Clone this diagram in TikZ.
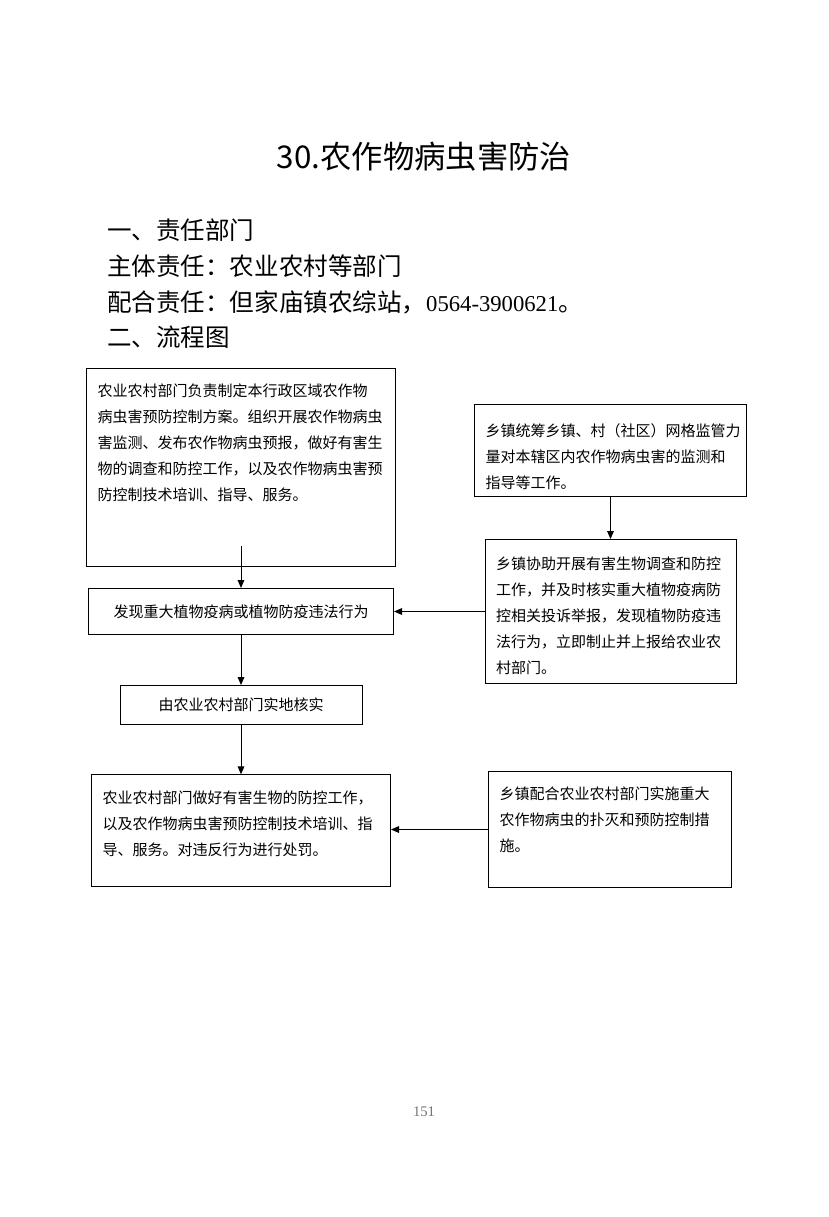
\documentclass[tikz,border=0pt]{standalone}
\usepackage{fontspec}
\setmainfont{Liberation Serif}
\newfontfamily\cjk{Noto Sans CJK SC}
\usetikzlibrary{arrows.meta,positioning,calc}
\newcommand{\boxfont}{\cjk\fontsize{11.25pt}{19.5pt}\selectfont}

\begin{document}
\begin{tikzpicture}[x=0.75pt,y=-0.75pt,>={Triangle[length=6pt,width=5pt]},
  stepbox/.style={draw,line width=0.75pt,anchor=north west,inner xsep=8.25pt,inner ysep=0pt,align=left,font=\boxfont},
  linebox/.style={draw,line width=0.75pt,inner sep=0pt,font=\boxfont},
  head/.style={anchor=west,inner sep=0pt,font=\cjk\fontsize{18.4pt}{22pt}\selectfont},
  flow/.style={->,line width=0.75pt}]
  \useasboundingbox (0,0) rectangle (828,1217);
  \node[inner sep=0pt,font=\cjk\fontsize{23.5pt}{23.5pt}\selectfont] (title) at (424,157) {30.农作物病虫害防治};
  \node[head] (h1) at (107,230) {一、责任部门};
  \node[head] (h2) at (107,266) {主体责任：农业农村等部门};
  \node[head] (h3) at (107,302) {配合责任：但家庙镇农综站，{\rmfamily\fontsize{17pt}{22pt}\selectfont 0564-3900621}。};
  \node[head] (h4) at (107,337) {二、流程图};
  \node[stepbox,text width=215.25pt,text height=20.8pt,text depth=127.7pt] (prog) at (86,368)
    {农业农村部门负责制定本行政区域农作物\\病虫害预防控制方案。组织开展农作物病虫\\害监测、发布农作物病虫预报，做好有害生\\物的调查和防控工作，以及农作物病虫害预\\防控制技术培训、指导、服务。};
  \node[linebox,minimum width=228.75pt,minimum height=34.5pt,below=15.75pt of prog] (find) {发现重大植物疫病或植物防疫违法行为};
  \node[linebox,minimum width=181.5pt,minimum height=29.25pt,below=37.5pt of find] (check) {由农业农村部门实地核实};
  \node[stepbox,anchor=north,text width=207.75pt,text height=21.5pt,text depth=62.5pt,below=37pt of check] (act)
    {农业农村部门做好有害生物的防控工作，\\以及农作物病虫害预防控制技术培训、指\\导、服务。对违反行为进行处罚。};
  \node[stepbox,text width=187.5pt,text height=23.8pt,text depth=45.2pt] (village) at (474,404)
    {乡镇统筹乡镇、村（社区）网格监管力\\量对本辖区内农作物病虫害的监测和\\指导等工作。};
  \node[stepbox,anchor=north,text width=171.75pt,text height=22.3pt,text depth=85.7pt,below=31.5pt of village] (assist)
    {乡镇协助开展有害生物调查和防控\\工作，并及时核实重大植物疫病防\\控相关投诉举报，发现植物防疫违\\法行为，立即制止并上报给农业农\\村部门。};
  \node[stepbox,text width=165.75pt,text height=20.8pt,text depth=66.2pt] (coop) at (488,771)
    {乡镇配合农业农村部门实施重大\\农作物病虫的扑灭和预防控制措\\施。};
  \coordinate (progout) at ($(prog.south)+(0,-21)$);
  \draw[flow] (progout) -- (find.north);
  \draw[flow] (find.south) -- (find.south |- check.north);
  \draw[flow] (check.south) -- (check.south |- act.north);
  \draw[flow] (village.south) -- (village.south |- assist.north);
  \draw[flow] (assist.west |- find) -- (find.east);
  \draw[flow] (coop.west) -- (coop.west -| act.east);
  \node[inner sep=0pt,text=black!55,font=\fontsize{11pt}{11pt}\selectfont] (pageno) at (424,1112) {151};
\end{tikzpicture}
\end{document}
